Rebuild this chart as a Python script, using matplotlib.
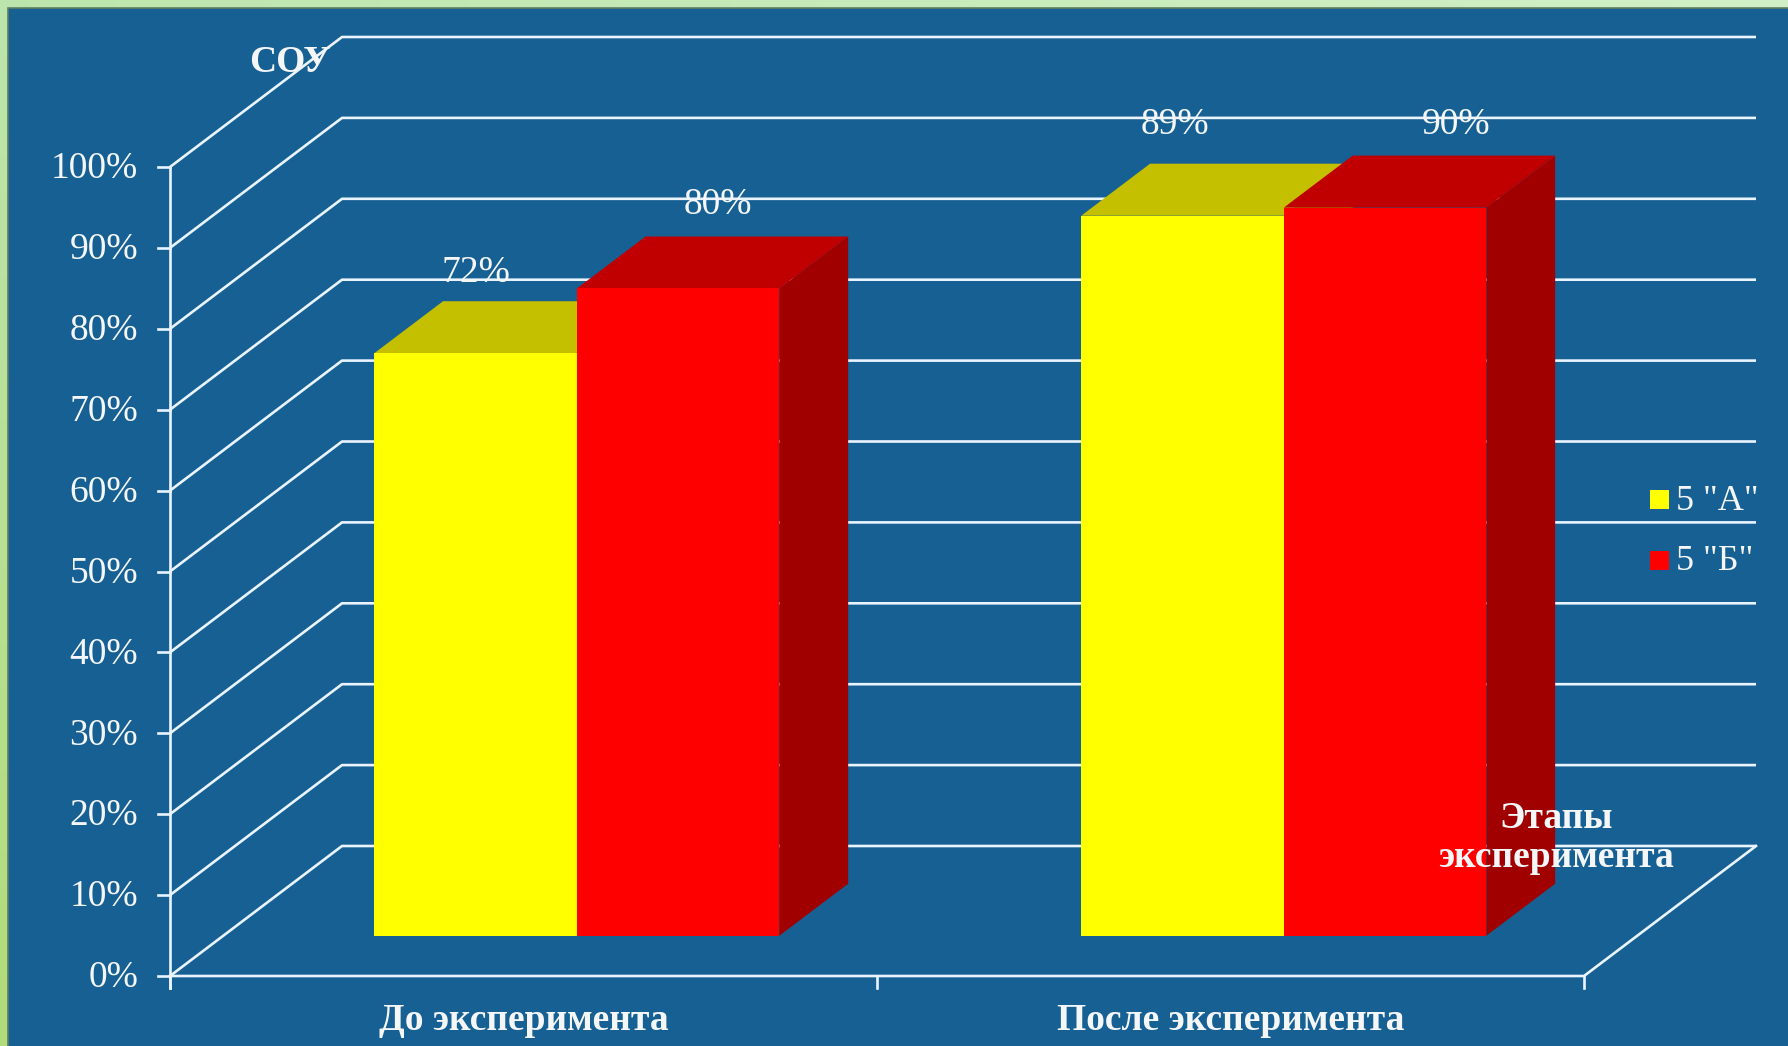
import numpy as np
import matplotlib
matplotlib.use("Agg")
import matplotlib.pyplot as plt
from matplotlib.patches import Polygon, Rectangle

# ---- data ----
categories = ["До эксперимента", "После эксперимента"]
series_names = ['5 "А"', '5 "Б"']
values_a = [72, 89]   # 5 "А"
values_b = [80, 90]   # 5 "Б"
y_ticks = [0, 10, 20, 30, 40, 50, 60, 70, 80, 90, 100]
y_title = "СОУ"
x_title = "Этапы\nэксперимента"

# ---- styling ----
W, H = 1788, 1046
BG_BLUE = "#166093"
LINE = "#EAF4FF"
TXT = "#F4F6F8"
front_cols = ["#FFFF00", "#FF0000"]
top_cols = ["#C4C000", "#C00000"]
side_cols = ["#A0A000", "#A00000"]
SERIF = ["Liberation Serif", "DejaVu Serif"]

# oblique projection of the 3D chart box
X0, Y0 = 170.0, 976.0          # front-left corner of floor
CAT_PX = 707.0                 # width of one category
VPX = 8.09                     # pixels per percent
DX, DY = 172.0, 130.0          # full depth offset
D0, D1 = 0.31, 0.71            # bar depth span
BAR_W = 0.2865                 # bar width in category units
BAR_START = 0.2135


def proj(c, v, d):
    return (X0 + c * CAT_PX + d * DX, Y0 - v * VPX - d * DY)


fig = plt.figure(figsize=(W / 100, H / 100), dpi=100)
ax = fig.add_axes([0, 0, 1, 1])
ax.set_xlim(0, W)
ax.set_ylim(H, 0)
ax.axis("off")

# light green frame gradient behind the plot panel
yy, xx = np.mgrid[0:H, 0:W]
t = yy / H
s = xx / W
r = 0.74 - 0.04 * t + 0.08 * s
g = 0.90 - 0.04 * t + 0.04 * s
b = 0.68 - 0.20 * t + 0.10 * s
img = np.dstack([r, g, b]).clip(0, 1)
ax.imshow(img, extent=[0, W, H, 0], zorder=0, aspect="auto")
ax.add_patch(Rectangle((8, 8), W, H, facecolor=BG_BLUE,
                       edgecolor="#5f7f60", lw=1.2, zorder=1))

lw = 1.9
ncat = len(categories)

# back wall and side wall gridlines
for v in y_ticks:
    p_front = proj(0, v, 0)
    p_back = proj(0, v, 1)
    p_right = proj(ncat, v, 1)
    ax.plot([p_front[0], p_back[0], p_right[0]],
            [p_front[1], p_back[1], p_right[1]],
            color=LINE, lw=lw, zorder=2, solid_capstyle="butt")
    # tick mark and label
    ax.plot([p_front[0] - 12, p_front[0]], [p_front[1], p_front[1]],
            color=LINE, lw=lw, zorder=2)
    ax.text(p_front[0] - 32, p_front[1] + 2, f"{v}%", ha="right", va="center",
            color=TXT, fontsize=27, family=SERIF, zorder=5)

# floor outline and axes
f0 = proj(0, 0, 0)
f1 = proj(ncat, 0, 0)
f2 = proj(ncat, 0, 1)
ax.plot([f0[0], f1[0], f2[0]], [f0[1], f1[1], f2[1]], color=LINE, lw=lw, zorder=2)
top_axis = proj(0, 100, 0)
ax.plot([f0[0], f0[0]], [f0[1] + 12, top_axis[1]], color=LINE, lw=lw, zorder=2)
for k in range(ncat + 1):
    px, py = proj(k, 0, 0)
    ax.plot([px, px], [py, py + 12], color=LINE, lw=lw, zorder=2)

# category labels
for k, name in enumerate(categories):
    px, py = proj(k + 0.5, 0, 0)
    ax.text(px, py + 44, name, ha="center", va="center", color=TXT,
            fontsize=27, fontweight="bold", family=SERIF, zorder=5)

# 3D bars
series_vals = [values_a, values_b]
label_offsets = [[(0, -80), (-8, -91)], [(40, -84), (71, -83)]]
for i in range(ncat):
    for j, vals in enumerate(series_vals):
        v = vals[i]
        cl = i + BAR_START + j * BAR_W
        cr = cl + BAR_W
        side = [proj(cr, 0, D0), proj(cr, 0, D1), proj(cr, v, D1), proj(cr, v, D0)]
        top = [proj(cl, v, D0), proj(cr, v, D0), proj(cr, v, D1), proj(cl, v, D1)]
        front = [proj(cl, 0, D0), proj(cr, 0, D0), proj(cr, v, D0), proj(cl, v, D0)]
        z = 3 + j
        ax.add_patch(Polygon(side, closed=True, facecolor=side_cols[j], edgecolor="none", zorder=z))
        ax.add_patch(Polygon(top, closed=True, facecolor=top_cols[j], edgecolor="none", zorder=z))
        ax.add_patch(Polygon(front, closed=True, facecolor=front_cols[j], edgecolor="none", zorder=z))
        fx, fy = proj(cl + BAR_W / 2, v, D0)
        ox, oy = label_offsets[j][i]
        ax.text(fx + ox, fy + oy, f"{v}%", ha="center", va="center", color=TXT,
                fontsize=27, family=SERIF, zorder=6)

# axis titles
ax.text(290, 62, y_title, ha="center", va="center", color=TXT, fontsize=27,
        fontweight="bold", family=SERIF, zorder=6)
ax.text(1556, 838, x_title, ha="center", va="center", color=TXT, fontsize=27,
        fontweight="bold", family=SERIF, linespacing=1.15, zorder=6)

# legend
leg_y = [500, 561]
for j, name in enumerate(series_names):
    ax.add_patch(Rectangle((1650, leg_y[j] - 10), 19, 19, facecolor=front_cols[j],
                           edgecolor="none", zorder=6))
    ax.text(1676, leg_y[j] + 1, name, ha="left", va="center", color=TXT,
            fontsize=26, family=SERIF, zorder=6)

fig.savefig("out.png", dpi=100)
